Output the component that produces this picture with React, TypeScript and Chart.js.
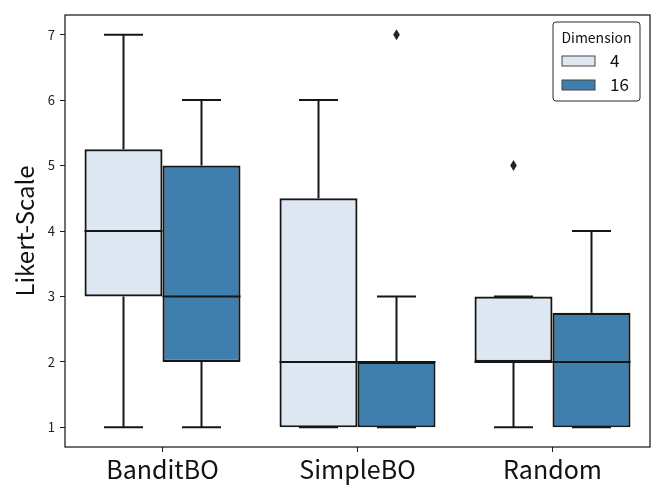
import { useEffect, useRef } from "react"
import { Chart, registerables } from "chart.js"

Chart.register(...registerables)

// categories along x, one box per dimension inside each
const categories = ["BanditBO", "SimpleBO", "Random"]
const dimensions = ["4", "16"]
const yTicks = [1, 2, 3, 4, 5, 6, 7]

// dimension 4
const q1Dim4 = [3, 1, 2]
const medianDim4 = [4, 2, 2]
const q3Dim4 = [5.25, 4.5, 3]
const lowDim4 = [1, 1, 1]
const highDim4 = [7, 6, 3]
const outliersDim4 = [[], [], [5]]

// dimension 16
const q1Dim16 = [2, 1, 1]
const medianDim16 = [3, 2, 2]
const q3Dim16 = [5, 2, 2.75]
const lowDim16 = [1, 1, 1]
const highDim16 = [6, 3, 4]
const outliersDim16 = [[], [7], []]

const FONT = "'Noto Sans CJK JP', 'Noto Sans', sans-serif"
const LINE = "#161616"
const colors = ["#dee8f3", "#3f7fae"]

const stats = [
  { q1: q1Dim4, median: medianDim4, q3: q3Dim4, low: lowDim4, high: highDim4, outliers: outliersDim4 },
  { q1: q1Dim16, median: medianDim16, q3: q3Dim16, low: lowDim16, high: highDim16, outliers: outliersDim16 },
]

// whiskers, caps, medians and fliers, drawn over the boxes
const boxLines = {
  id: "boxLines",
  afterDatasetsDraw(chart: Chart) {
    const { ctx } = chart
    const y = chart.scales.y
    ctx.save()
    ctx.strokeStyle = LINE
    ctx.lineWidth = 2
    ctx.lineCap = "butt"
    stats.forEach((s, d) => {
      const meta = chart.getDatasetMeta(d)
      meta.data.forEach((bar: any, i: number) => {
        const { x, width } = bar.getProps(["x", "width"], true)
        const half = width / 2
        const cap = width / 4
        const seg = (x1: number, v1: number, x2: number, v2: number) => {
          ctx.beginPath()
          ctx.moveTo(x1, y.getPixelForValue(v1))
          ctx.lineTo(x2, y.getPixelForValue(v2))
          ctx.stroke()
        }
        seg(x, s.q3[i], x, s.high[i])
        seg(x, s.q1[i], x, s.low[i])
        seg(x - cap, s.high[i], x + cap, s.high[i])
        seg(x - cap, s.low[i], x + cap, s.low[i])
        seg(x - half, s.median[i], x + half, s.median[i])

        ctx.fillStyle = "#262626"
        s.outliers[i].forEach((v) => {
          const py = y.getPixelForValue(v)
          ctx.beginPath()
          ctx.moveTo(x, py - 5.5)
          ctx.lineTo(x + 3.3, py)
          ctx.lineTo(x, py + 5.5)
          ctx.lineTo(x - 3.3, py)
          ctx.closePath()
          ctx.fill()
        })
      })
    })
    ctx.restore()
  },
  afterDraw(chart: Chart) {
    const { ctx, chartArea: a } = chart
    ctx.save()
    ctx.strokeStyle = "#1a1a1a"
    ctx.lineWidth = 1.25
    ctx.strokeRect(a.left, a.top, a.right - a.left, a.bottom - a.top)

    // legend box in the upper right corner
    const lx = a.right - 97
    const ly = a.top + 7
    const lw = 87
    const lh = 79
    ctx.fillStyle = "rgba(255,255,255,0.8)"
    ctx.strokeStyle = "#2a2a2a"
    ctx.lineWidth = 1
    ctx.beginPath()
    ctx.roundRect(lx, ly, lw, lh, 3)
    ctx.fill()
    ctx.stroke()
    ctx.fillStyle = "#111"
    ctx.textAlign = "center"
    ctx.textBaseline = "middle"
    ctx.font = `14px ${FONT}`
    ctx.fillText("Dimension", lx + lw / 2, ly + 16)
    ctx.font = `17px ${FONT}`
    dimensions.forEach((name, k) => {
      const py = ly + 34 + k * 24
      ctx.fillStyle = colors[k]
      ctx.fillRect(lx + 9, py, 33, 10)
      ctx.strokeStyle = "#444"
      ctx.lineWidth = 1
      ctx.strokeRect(lx + 9, py, 33, 10)
      ctx.fillStyle = "#111"
      ctx.textAlign = "left"
      ctx.fillText(name, lx + 57, py + 5)
    })
    ctx.restore()
  },
}

export default function App() {
  const chartRef = useRef<HTMLCanvasElement>(null)
  const chartInstance = useRef<Chart | null>(null)

  useEffect(() => {
    document.body.style.margin = "0"
    if (!chartRef.current) return
    if (chartInstance.current) chartInstance.current.destroy()
    const ctx = chartRef.current.getContext("2d")
    if (!ctx) return

    chartInstance.current = new Chart(ctx, {
      type: "bar",
      data: {
        labels: categories,
        datasets: stats.map((s, d) => ({
          label: dimensions[d],
          data: categories.map((_, i) => [s.q1[i], s.q3[i]]),
          backgroundColor: colors[d],
          borderColor: LINE,
          borderWidth: 2.2,
          borderSkipped: false,
          categoryPercentage: 0.8,
          barPercentage: 1,
        })) as any,
      },
      options: {
        animation: false,
        responsive: false,
        layout: { padding: { left: 0, right: 14, top: 15, bottom: 0 } },
        plugins: {
          legend: { display: false },
          tooltip: { enabled: false },
        },
        scales: {
          x: {
            type: "category",
            offset: true,
            grid: { display: true, drawOnChartArea: false, drawTicks: true, tickLength: 5, tickColor: "#1a1a1a", offset: false },
            border: { display: false },
            ticks: { color: "#111", font: { family: FONT, size: 25 }, padding: 2 },
            afterFit: (scale: any) => {
              scale.height = 51
            },
          },
          y: {
            type: "linear",
            min: 0.7,
            max: 7.3,
            grid: { display: true, drawOnChartArea: false, drawTicks: true, tickLength: 5, tickColor: "#1a1a1a" },
            border: { display: false },
            afterBuildTicks: (axis: any) => {
              axis.ticks = yTicks.map((v) => ({ value: v }))
            },
            ticks: { color: "#222", font: { family: FONT, size: 13 }, padding: 5 },
            title: {
              display: true,
              text: "Likert-Scale",
              color: "#111",
              font: { family: FONT, size: 24 },
              padding: { top: 10, bottom: 0 },
            },
            afterFit: (scale: any) => {
              scale.width = 65
            },
          },
        },
      },
      plugins: [boxLines],
    })

    return () => {
      if (chartInstance.current) {
        chartInstance.current.destroy()
        chartInstance.current = null
      }
    }
  }, [])

  return (
    <div style={{ width: 664, height: 498 }}>
      <canvas ref={chartRef} width={664} height={498} style={{ width: 664, height: 498, display: "block" }} />
    </div>
  )
}
